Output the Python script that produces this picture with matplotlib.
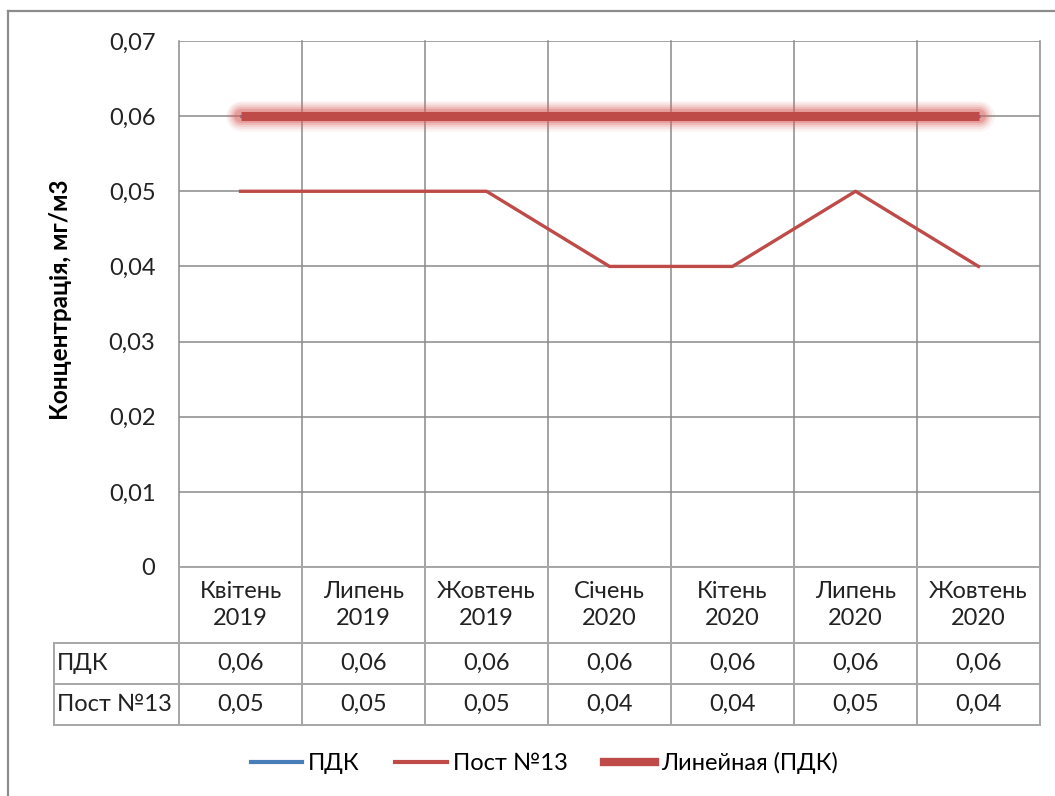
import matplotlib.pyplot as plt
from matplotlib.transforms import blended_transform_factory
from matplotlib.lines import Line2D

plt.rcParams['font.family'] = ['Lato', 'DejaVu Sans']

months = ['Квітень\n2019', 'Липень\n2019', 'Жовтень\n2019', 'Січень\n2020',
          'Кітень\n2020', 'Липень\n2020', 'Жовтень\n2020']
pdk = [0.06, 0.06, 0.06, 0.06, 0.06, 0.06, 0.06]
post13 = [0.05, 0.05, 0.05, 0.04, 0.04, 0.05, 0.04]
yticks = [0, 0.01, 0.02, 0.03, 0.04, 0.05, 0.06, 0.07]

BLUE = '#4a7ebb'
RED = '#be4b48'
GRID = '#8a8a8a'
TAB = '#a6a6a6'
FS = 17


def fmt(v):
    return '0' if v == 0 else f'{v:.2f}'.replace('.', ',')


fig = plt.figure(figsize=(10.55, 7.96), dpi=100)
ax = fig.add_axes([0.1697, 0.2877, 0.8161, 0.6608])

x = list(range(len(months)))
n = len(months)

# linear trend of ПДК (flat, since all values equal)
k = (pdk[-1] - pdk[0]) / (n - 1)
trend = [pdk[0] + k * i for i in x]

ax.plot(x, pdk, color=BLUE, lw=2.2, zorder=3)
for w, a in [(22, 0.07), (19, 0.10), (16, 0.14), (13, 0.20), (10, 0.30)]:
    ax.plot(x, trend, color='#d9605c', lw=w, alpha=a, solid_capstyle='round', zorder=4)
ax.plot(x, trend, color=RED, lw=6.5, solid_capstyle='butt', zorder=5)
ax.plot(x, post13, color=RED, lw=2.4, zorder=6)

ax.set_xlim(-0.5, n - 0.5)
ax.set_ylim(0, 0.07)
ax.set_yticks(yticks)
ax.set_yticklabels([fmt(v) for v in yticks], fontsize=FS, color='#222222')
ax.tick_params(axis='y', length=0, pad=17)
ax.set_xticks([])
for s in ax.spines.values():
    s.set_visible(False)
for v in yticks:
    ax.axhline(v, color=GRID, lw=1.1, zorder=1)

# data table under the plot
tr = blended_transform_factory(ax.transData, ax.transAxes)
r_cat, r_pdk, r_post = -0.1445, -0.2224, -0.3004
left = -1.52
for b in [i - 0.5 for i in range(n + 1)]:
    ax.plot([b, b], [1, 0], color=GRID, lw=1.1, transform=tr, clip_on=False, zorder=1)
    ax.plot([b, b], [0, r_post], color=TAB, lw=1.4, transform=tr, clip_on=False)
ax.plot([left, left], [r_cat, r_post], color=TAB, lw=1.4, transform=tr, clip_on=False)
ax.plot([-0.5, n - 0.5], [0, 0], color=TAB, lw=1.4, transform=tr, clip_on=False)
for r in [r_cat, r_pdk, r_post]:
    ax.plot([left, n - 0.5], [r, r], color=TAB, lw=1.4, transform=tr, clip_on=False)

for i, m in enumerate(months):
    ax.text(i, r_cat / 2, m, transform=tr, ha='center', va='center',
            fontsize=FS, linespacing=1.3, color='#222222')
    ax.text(i, (r_cat + r_pdk) / 2, fmt(pdk[i]), transform=tr, ha='center',
            va='center', fontsize=FS, color='#222222')
    ax.text(i, (r_pdk + r_post) / 2, fmt(post13[i]), transform=tr, ha='center',
            va='center', fontsize=FS, color='#222222')
ax.text(left + 0.03, (r_cat + r_pdk) / 2, 'ПДК', transform=tr, ha='left',
        va='center', fontsize=FS, color='#222222')
ax.text(left + 0.03, (r_pdk + r_post) / 2, 'Пост №13', transform=tr, ha='left',
        va='center', fontsize=FS, color='#222222')

fig.text(0.057, 0.623, 'Концентрація, мг/м3', rotation=90, ha='center',
         va='center', fontsize=FS + 0.5, fontweight='bold')

handles = [Line2D([], [], color=BLUE, lw=3),
           Line2D([], [], color=RED, lw=3),
           Line2D([], [], color=RED, lw=6)]
fig.legend(handles, ['ПДК', 'Пост №13', 'Линейная (ПДК)'], loc='center',
           bbox_to_anchor=(0.516, 0.041), ncol=3, frameon=False, fontsize=FS,
           handlelength=2.2, handletextpad=0.25, columnspacing=1.5)

# outer frame (left and top edges)
fig.add_artist(Line2D([8 / 1055, 8 / 1055], [0, 1 - 11 / 796], color='#8c8c8c', lw=1.6))
fig.add_artist(Line2D([8 / 1055, 1], [1 - 11 / 796, 1 - 11 / 796], color='#8c8c8c', lw=1.6))

fig.savefig('out.png', dpi=100, facecolor='white')
